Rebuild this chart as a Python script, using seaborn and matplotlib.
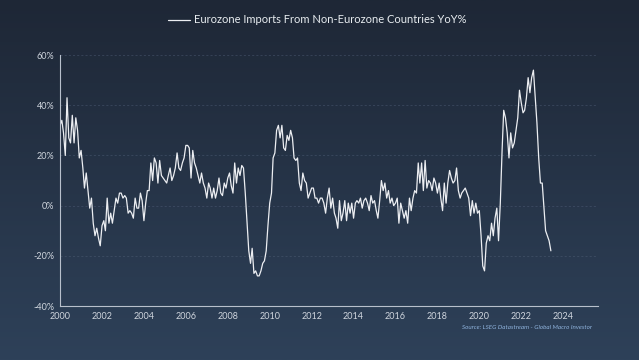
import numpy as np
import pandas as pd
from matplotlib import pyplot as plt
import matplotlib.dates as mdates
import seaborn as sns

# monthly YoY %, Jan 2000 .. Jun 2023
y2000 = [32, 34, 29, 20, 43, 27, 25, 36, 25, 35, 30, 19]
y2001 = [22, 15, 7, 13, 6, -1, 3, -7, -12, -9, -13, -16]
y2002 = [-8, -6, -10, 3, -7, -3, -7, -2, 3, 1, 5, 5]
y2003 = [3, 4, 3, -3, -2, -3, -5, 3, -1, -1, 5, 2]
y2004 = [-6, 1, 6, 6, 17, 10, 19, 17, 9, 18, 12, 11]
y2005 = [10, 9, 12, 15, 10, 12, 15, 21, 15, 14, 17, 19]
y2006 = [24, 24, 23, 11, 22, 17, 15, 12, 9, 13, 9, 7]
y2007 = [3, 9, 7, 3, 7, 3, 6, 11, 5, 4, 9, 7]
y2008 = [11, 13, 8, 5, 17, 9, 15, 12, 16, 15, 5, -6]
y2009 = [-18, -23, -17, -27, -26, -28, -28, -26, -23, -22, -18, -8]
y2010 = [1, 5, 19, 21, 30, 32, 27, 32, 23, 22, 28, 26]
y2011 = [30, 27, 19, 18, 19, 9, 6, 13, 10, 9, 3, 5]
y2012 = [7, 7, 3, 3, 1, 3, 3, 1, -3, 3, 7, -1]
y2013 = [3, -3, -5, -9, 2, -6, -3, 2, -6, 1, -3, 1]
y2014 = [-5, 1, 2, 1, 3, -1, 2, 3, 1, -2, 4, 1]
y2015 = [2, -2, -5, 2, 10, 6, 9, 3, 6, 1, 3, 0]
y2016 = [1, 3, -7, 1, -2, -5, -2, -7, 3, -2, 3, 6]
y2017 = [5, 17, 9, 17, 6, 18, 7, 10, 9, 6, 11, 9]
y2018 = [5, 9, 3, -2, 9, 1, 9, 14, 11, 9, 10, 15]
y2019 = [6, 3, 5, 6, 7, 5, 3, -4, 2, -3, 1, -3]
y2020 = [-2, -12, -24, -26, -15, -12, -14, -7, -12, -5, -1, -14]
y2021 = [1, 22, 38, 35, 29, 19, 29, 23, 25, 30, 35, 46]
y2022 = [41, 37, 38, 43, 51, 45, 51, 54, 43, 33, 19, 9]
y2023 = [9, -1, -10, -12, -14, -18]

values = (y2000 + y2001 + y2002 + y2003 + y2004 + y2005 + y2006 + y2007 +
          y2008 + y2009 + y2010 + y2011 + y2012 + y2013 + y2014 + y2015 +
          y2016 + y2017 + y2018 + y2019 + y2020 + y2021 + y2022 + y2023)
dates = pd.date_range("2000-01-01", periods=len(values), freq="MS")
df = pd.DataFrame({"date": dates, "yoy": values})

yticks = [-40, -20, 0, 20, 40, 60]
xyears = list(range(2000, 2026, 2))
label = "Eurozone Imports From Non-Eurozone Countries YoY%"

sns.set_style("white")
plt.rcParams["font.family"] = ["Lato", "DejaVu Sans"]

fig = plt.figure(figsize=(6.39, 3.60), dpi=100)

# gradient background
bg = fig.add_axes([0, 0, 1, 1])
grad = np.linspace(0, 1, 256).reshape(-1, 1)
top = np.array([30, 39, 54]) / 255
bot = np.array([46, 65, 89]) / 255
img = top + (bot - top) * grad[:, :, None]
bg.imshow(img, aspect="auto", extent=[0, 1, 0, 1])
bg.axis("off")

ax = fig.add_axes([0.094, 0.15, 0.842, 0.697])
ax.patch.set_alpha(0)
sns.lineplot(data=df, x="date", y="yoy", ax=ax, color="#eceef2", linewidth=0.9,
             label=label)

ax.set_ylim(-40, 60)
ax.set_yticks(yticks)
ax.set_yticklabels([f"{v}%" for v in yticks])
ax.set_xlim(pd.Timestamp("2000-01-01"), pd.Timestamp("2025-09-01"))
ax.set_xticks([pd.Timestamp(f"{y}-01-01") for y in xyears])
ax.xaxis.set_major_formatter(mdates.DateFormatter("%Y"))
ax.set_xlabel("")
ax.set_ylabel("")

ax.grid(axis="y", color="#53627a", linestyle=(0, (3, 3)), linewidth=0.5, alpha=0.6)
ax.grid(axis="x", visible=False)
for s in ["top", "right"]:
    ax.spines[s].set_visible(False)
for s in ["left", "bottom"]:
    ax.spines[s].set_color("#b8c0cc")
    ax.spines[s].set_linewidth(0.8)
ax.tick_params(colors="#b8c0cc", labelcolor="#d0d6de", labelsize=6.5,
               length=3, width=0.7, pad=1)

leg = ax.legend(loc="center", bbox_to_anchor=(0.478, 1.14), frameon=False,
                fontsize=8, handlelength=2.0, handletextpad=0.4,
                labelcolor="#e8ecf0")

fig.text(0.927, 0.09, "Source: LSEG Datastream - Global Macro Investor",
         ha="right", va="center", fontsize=4.5, style="italic", color="#8fb3dd")

fig.savefig("out.png", dpi=100)
